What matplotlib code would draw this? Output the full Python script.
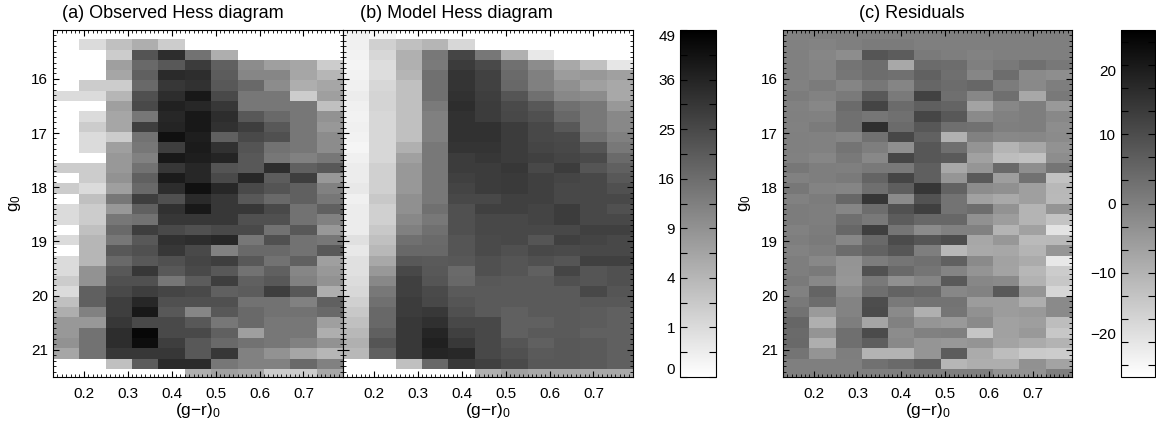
import numpy as np
import matplotlib
matplotlib.use('Agg')
import matplotlib.pyplot as plt
from matplotlib.colors import PowerNorm, Normalize
from matplotlib.ticker import MultipleLocator, FixedLocator, AutoMinorLocator

plt.rcParams['font.family'] = ['Liberation Sans', 'DejaVu Sans']
plt.rcParams['mathtext.fontset'] = 'custom'
plt.rcParams['mathtext.rm'] = 'Liberation Sans'
plt.rcParams['mathtext.it'] = 'Liberation Sans'

# bins: (g-r)0 colour and g0 magnitude
color_lo, color_step, n_color = 0.13, 0.06, 11
mag_lo, mag_step, n_mag = 15.08, 0.19, 34

# observed Hess diagram, star counts per bin (rows = g0 bins, bright to faint)
observed = np.array([
    [0, 0, 0, 0, 0, 0, 0, 0, 0, 0, 0],
    [0, 1, 3, 5, 2, 0, 0, 0, 0, 0, 0],
    [0, 0, 2, 22, 33, 15, 5, 0, 0, 0, 0],
    [0, 0, 7, 17, 21, 29, 19, 10, 7, 6, 2],
    [0, 0, 6, 19, 34, 33, 20, 11, 11, 6, 4],
    [0, 2, 2, 17, 30, 32, 21, 17, 10, 5, 6],
    [1, 1, 4, 23, 33, 40, 25, 14, 14, 2, 7],
    [0, 0, 7, 25, 37, 35, 30, 14, 14, 14, 3],
    [0, 1, 6, 14, 35, 40, 33, 21, 17, 14, 9],
    [0, 2, 6, 28, 36, 40, 32, 28, 21, 14, 8],
    [0, 1, 2, 15, 43, 38, 19, 25, 23, 14, 10],
    [0, 1, 7, 14, 28, 39, 32, 22, 15, 14, 10],
    [0, 0, 8, 12, 40, 38, 36, 21, 14, 12, 14],
    [2, 2, 8, 15, 30, 35, 22, 21, 33, 19, 21],
    [0, 2, 9, 19, 39, 35, 25, 35, 20, 28, 8],
    [2, 1, 7, 17, 33, 43, 35, 25, 22, 19, 12],
    [0, 3, 14, 28, 23, 34, 30, 21, 17, 19, 14],
    [1, 2, 8, 19, 32, 40, 30, 30, 25, 15, 19],
    [1, 2, 14, 15, 30, 30, 30, 23, 23, 15, 12],
    [0, 3, 17, 28, 25, 23, 25, 25, 15, 21, 8],
    [1, 4, 14, 21, 32, 33, 35, 14, 23, 15, 14],
    [0, 4, 21, 23, 30, 25, 12, 17, 17, 15, 21],
    [1, 4, 17, 21, 23, 26, 28, 21, 15, 19, 7],
    [1, 9, 21, 30, 21, 25, 21, 15, 19, 11, 8],
    [2, 9, 23, 23, 14, 20, 28, 19, 21, 12, 9],
    [1, 19, 25, 28, 26, 25, 19, 20, 28, 21, 5],
    [3, 19, 28, 35, 23, 23, 23, 15, 15, 12, 19],
    [5, 12, 28, 40, 21, 11, 21, 17, 15, 15, 17],
    [8, 8, 30, 25, 25, 21, 14, 17, 14, 14, 7],
    [8, 15, 33, 46, 25, 25, 19, 7, 14, 14, 5],
    [9, 15, 33, 44, 28, 21, 17, 15, 14, 12, 9],
    [6, 15, 30, 30, 30, 21, 30, 12, 9, 6, 4],
    [0, 0, 3, 20, 34, 34, 14, 12, 12, 17, 12],
    [0, 0, 0, 0, 0, 5, 7, 6, 2, 2, 6],
])

# model Hess diagram
model = np.array([
    [0.17, 0.05, 0, 0, 0, 0, 0, 0, 0, 0, 0],
    [0.17, 1.7, 3.0, 4.2, 1.2, 0, 0, 0, 0, 0, 0],
    [0.13, 1.2, 4.7, 13.7, 26, 14, 4.7, 0.4, 0, 0, 0],
    [0.1, 0.9, 4.7, 13.3, 29, 25, 15.4, 10, 5.7, 3.0, 0.5],
    [0.13, 0.9, 4.2, 15.4, 31, 27, 16.7, 12.2, 7.4, 8, 6.8],
    [0.17, 1.2, 3.0, 15.4, 31, 27, 17.2, 12.2, 9.3, 6.8, 5.7],
    [0.27, 1.4, 3.0, 15.4, 32, 28, 21.8, 15.4, 10.7, 10, 5.7],
    [0.17, 1.4, 3.0, 13.3, 33, 28.7, 24.7, 21, 15.4, 13.7, 8],
    [0.13, 1.2, 3.0, 12.2, 32, 28.7, 25.2, 23, 17.2, 13.7, 10.7],
    [0.17, 1.2, 3.0, 12.2, 32, 32, 28.7, 25.2, 21, 13.7, 10.7],
    [0.13, 1.2, 3.0, 12.2, 32, 32, 28.7, 25.2, 24.7, 15.4, 12.2],
    [0.08, 1.2, 4.7, 13.7, 31, 31, 28.7, 26, 25.2, 21.8, 13.7],
    [0.17, 1.2, 6.8, 13.7, 28.7, 30, 28.7, 27.5, 26, 24.7, 16.7],
    [0.27, 1.7, 8, 13.7, 28.7, 28.7, 30, 25.2, 28.7, 21.8, 19],
    [0.27, 1.7, 8, 13.7, 27.5, 28.7, 29.2, 27.5, 26, 25.2, 21],
    [0.4, 1.7, 8, 13.7, 26.4, 28.7, 29.2, 27.5, 25.2, 25.2, 23],
    [0.17, 2.3, 9.3, 13.7, 25.2, 25.2, 27.5, 27.5, 25.2, 25.2, 25.2],
    [0.27, 1.7, 9.3, 15.4, 23, 27.5, 27.5, 26.4, 28.7, 25.2, 23],
    [0.27, 1.7, 10.7, 13.7, 23, 25.2, 25.2, 26.4, 28.7, 25.2, 25.2],
    [0.27, 2.3, 12.2, 15.4, 23, 25.2, 25.2, 25.2, 25.2, 27.5, 27.5],
    [0.72, 3.0, 15.4, 16.7, 21.8, 24.7, 25.2, 21.8, 27.5, 26.4, 25.2],
    [0.4, 3.8, 17.2, 17.2, 21.8, 24.7, 23, 25.2, 24.7, 25.2, 25.2],
    [0.72, 5.7, 21, 20.5, 21, 23, 21.8, 23, 21.8, 27.5, 27.5],
    [0.72, 8, 25.2, 21, 16.7, 23, 21.8, 19, 26, 21.8, 23],
    [0.92, 10.7, 27.5, 21.8, 17.2, 21, 20.5, 20.5, 23, 21.8, 23],
    [1.15, 13.7, 27.5, 24.7, 20.5, 20.5, 20.5, 20.5, 20.5, 25.2, 21.8],
    [1.67, 15.4, 28.7, 25.2, 21.8, 20.5, 20.5, 20.5, 20.5, 21, 21],
    [2.3, 17.2, 28.7, 29.8, 23, 20.5, 19, 20.5, 20.5, 20, 19],
    [3.0, 17.2, 29.8, 32.3, 25.2, 25.2, 19, 19, 20.5, 20, 19],
    [3.8, 19, 29.8, 35.8, 27.5, 25.2, 19, 20.5, 20.5, 19, 19],
    [4.7, 21.8, 29.8, 37.5, 29.8, 25.2, 21.8, 19, 21, 20.5, 19],
    [3.8, 19, 29.8, 35.8, 34.8, 25.2, 23, 20.5, 21, 20.5, 19],
    [0, 0, 3.0, 17.2, 29.8, 27.5, 24.7, 21, 21, 20.5, 19],
    [0, 0, 0, 0, 0, 4.7, 6.8, 5.7, 5.7, 5.7, 5.7],
])

# residual map
residuals = np.array([
    [-0.2, 0, 0, 0, 0, 0, 0, 0, 0, 0, 0],
    [-0.2, -0.7, 0, 0.8, 0.8, 0, 0, 0, 0, 0, 0],
    [-0.1, -1.2, -2.7, 8.3, 7, 1, 0.3, -0.4, 0, 0, 0],
    [-0.1, -0.9, 2.3, 3.7, -8, 4, 3.6, 0, 1.3, 3, 1.5],
    [-0.1, -0.9, 1.8, 3.6, 3, 6, 3.3, -1.2, 3.6, -2, -2.8],
    [-0.2, 0.8, -1, 1.6, -1, 5, 3.8, 4.8, 0.7, -1.8, 0.3],
    [0.7, -0.4, 1, 7.6, 1, 12, 3.2, -1.4, 3.3, -8, 1.3],
    [-0.2, -1.4, 4, 11.7, 4, 6.3, 5.3, -7, -1.4, 0.3, -5],
    [-0.1, -0.2, 3, 1.8, 3, 11.3, 7.8, -2, -0.2, 0.3, -1.7],
    [-0.2, 0.8, 3, 15.8, 4, 8, 3.3, 2.8, 0, 0.3, -2.7],
    [-0.1, -0.2, -1, 2.8, 11, 6, -9.7, -0.2, -1.7, -1.4, -2.2],
    [-0.1, -0.2, 2.3, 0.3, -3, 8, 3.3, -4, -10.2, -7.8, -3.7],
    [-0.2, -1.2, 1.2, -1.7, 11.3, 8, 7.3, -6.5, -12, -12.7, -2.7],
    [1.7, 0.3, 0, 1.3, 1.3, 6.3, -8, -4.2, 4.3, -2.8, 2],
    [-0.3, 0.3, 1, 5.3, 11.5, 6.3, -4.2, 7.5, -6, 2.8, -13],
    [1.6, -0.7, -1, 3.3, 6.6, 14.3, 5.8, -2.5, -3.2, -6.2, -11],
    [-0.2, 0.7, 4.7, 14.3, -2.2, 8.8, 2.5, -6.5, -8.2, -6.2, -11.2],
    [0.7, 0.3, -1.3, 3.6, 9, 12.5, 2.5, 3.6, -3.7, -10.2, -4],
    [0.7, 0.3, 3.3, 1.3, 7, 4.8, 4.8, -3.4, -5.7, -10.2, -13.2],
    [-0.3, 0.7, 4.8, 12.6, 2, -2.2, -0.2, -0.2, -10.2, -6.5, -19.5],
    [0.3, 1, -1.4, 4.3, 10.2, 8.3, 9.8, -7.8, -4.5, -11.4, -11.2],
    [-0.4, 0.2, 3.8, 5.8, 8.2, 0.3, -11, -8.2, -7.7, -10.2, -4.2],
    [0.3, -1.7, -4, 0.5, 2, 3, 6.2, -2, -6.8, -8.5, -20.5],
    [0.3, 1, -4.2, 9, 4.3, 2, -0.8, -4, -7, -10.8, -15],
    [1.1, -1.7, -4.5, 1.2, -3.2, -1, 7.5, -1.5, -2, -9.8, -14],
    [-0.2, 5.3, -2.5, 3.3, 5.5, 4.5, -1.5, -0.5, 7.5, -4.2, -16.8],
    [1.3, 3.6, -0.7, 9.8, 1.2, 2.5, 2.5, -5.5, -5.5, -9, -2],
    [2.7, -5.2, -0.7, 10.2, -2, -9.5, 2, -3.5, -5.5, -5, -2],
    [5, -9.2, 0.2, -7.3, -0.2, -4.2, -5, -2, -6.5, -6, -12],
    [4.2, -4, 3.2, 10.2, -2.5, -0.2, 0, -13.5, -6.5, -5, -14],
    [4.3, -9, 3.2, 6.5, -1.8, -4.2, -4.8, -4, -7, -8.5, -10],
    [2.2, -4, 0.2, -10, -10, -4.2, 7, -8.5, -12, -14.5, -15],
    [0, 0, 0, 2.8, 4.2, 6.5, -10.7, -9, -9, -3.5, -7],
    [0, 0, 0, 0, 0, 0.3, 0.2, 0.3, -3.7, -3.7, 0.3],
])

count_ticks = [0, 1, 4, 9, 16, 25, 36, 49]
count_minor = [0.25, 2.25, 6.25, 12.25, 20.25, 30.25, 42.25]
resid_ticks = [-20, -10, 0, 10, 20]
color_ticks = [0.2, 0.3, 0.4, 0.5, 0.6, 0.7]

W, H = 1156, 425


def box(x0, y0, x1, y1):
    # pixel box -> figure fraction
    return [x0 / W, 1 - y1 / H, (x1 - x0) / W, (y1 - y0) / H]


def style_axes(ax, ylabels=True):
    ax.set_xlim(0.13, 0.79)
    ax.set_ylim(21.5, 15.1)
    ax.set_xticks(color_ticks)
    ax.set_xticklabels(['%.1f' % t for t in color_ticks])
    ax.xaxis.set_minor_locator(MultipleLocator(0.01))
    ax.yaxis.set_major_locator(MultipleLocator(1))
    ax.yaxis.set_minor_locator(MultipleLocator(0.1))
    ax.tick_params(which='both', direction='in', top=True, right=True, labelsize=11)
    ax.tick_params(which='major', length=4.5, width=0.8)
    ax.tick_params(which='minor', length=2.2, width=0.6)
    ax.tick_params(axis='x', pad=7)
    ax.set_xlabel('(g\u2212r)$_0$', fontsize=12.5, labelpad=0)
    if ylabels:
        ax.set_ylabel('g$_0$', fontsize=12, labelpad=6)
    else:
        ax.tick_params(labelleft=False)


def style_cbar(cax, cb, ticks):
    cb.set_ticks(ticks)
    cax.tick_params(which='both', direction='in', left=True, right=True,
                    labelleft=True, labelright=False, labelsize=11, width=0.8)
    cax.tick_params(which='major', length=5)
    cax.tick_params(which='minor', length=5)
    cb.outline.set_linewidth(0.8)
    labels = cax.get_yticklabels()
    labels[0].set_verticalalignment('bottom')
    labels[-1].set_verticalalignment('top')


def main():
    fig = plt.figure(figsize=(11.56, 4.25), dpi=100)

    x_edges = color_lo + color_step * np.arange(n_color + 1)
    y_edges = mag_lo + mag_step * np.arange(n_mag + 1)

    count_norm = PowerNorm(gamma=0.5, vmin=0, vmax=49)
    resid_norm = Normalize(vmin=-25, vmax=25)

    ax_a = fig.add_axes(box(53, 30, 343, 377))
    ax_b = fig.add_axes(box(343, 30, 633, 377))
    cax1 = fig.add_axes(box(680, 30, 716, 377))
    ax_c = fig.add_axes(box(783, 30, 1072, 377))
    cax2 = fig.add_axes(box(1121, 30, 1155, 377))

    mesh = ax_a.pcolormesh(x_edges, y_edges, observed, cmap='gray_r', norm=count_norm)
    ax_b.pcolormesh(x_edges, y_edges, model, cmap='gray_r', norm=count_norm)
    rmesh = ax_c.pcolormesh(x_edges, y_edges, residuals, cmap='gray_r', norm=resid_norm)

    style_axes(ax_a)
    style_axes(ax_b, ylabels=False)
    style_axes(ax_c)

    # panel titles sit a little left of the panel centres in the original
    fig.text(173 / W, 1 - 13 / H, '(a) Observed Hess diagram', fontsize=13,
             ha='center', va='center')
    fig.text(456 / W, 1 - 13 / H, '(b) Model Hess diagram', fontsize=13,
             ha='center', va='center')
    fig.text(912 / W, 1 - 13 / H, '(c) Residuals', fontsize=13,
             ha='center', va='center')

    cb1 = fig.colorbar(mesh, cax=cax1)
    cb1.ax.yaxis.set_minor_locator(FixedLocator(count_minor))
    style_cbar(cax1, cb1, count_ticks)

    cb2 = fig.colorbar(rmesh, cax=cax2)
    cb2.ax.yaxis.set_minor_locator(AutoMinorLocator(3))
    style_cbar(cax2, cb2, resid_ticks)

    fig.savefig('out.png', dpi=100)


if __name__ == '__main__':
    main()
